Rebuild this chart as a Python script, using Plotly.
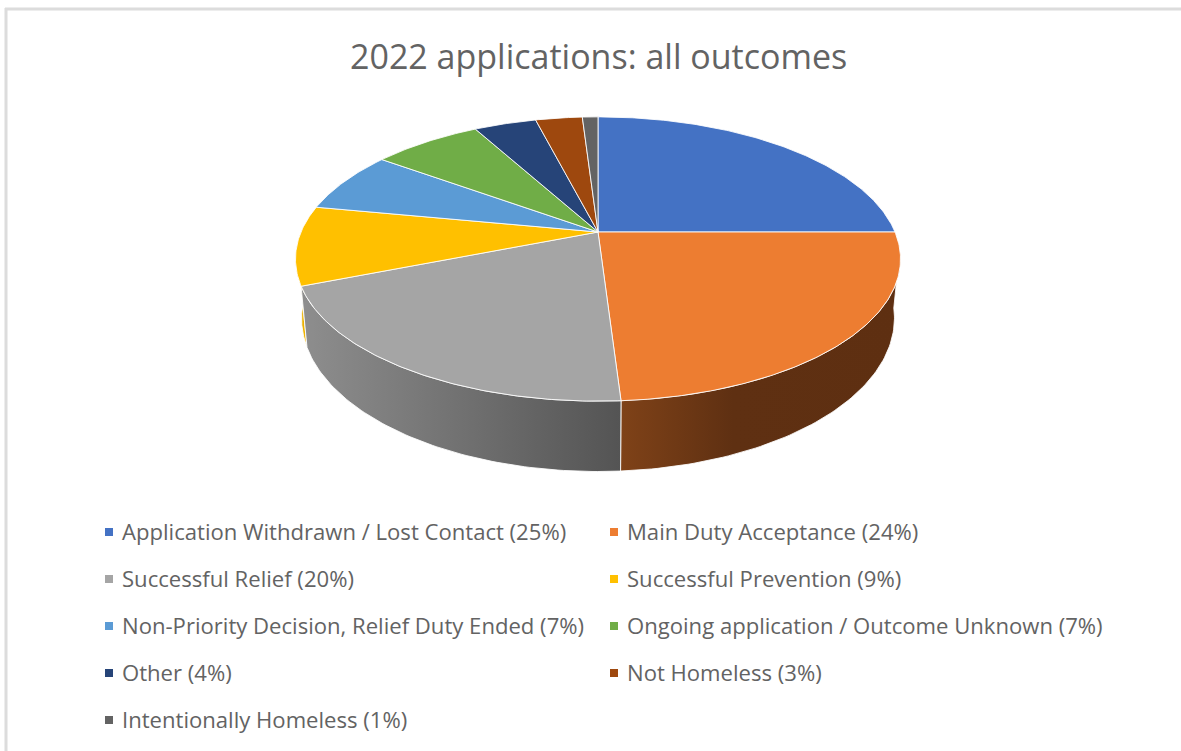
import numpy as np
import plotly.graph_objects as go

title = "2022 applications: all outcomes"
categories = [
    "Application Withdrawn / Lost Contact",
    "Main Duty Acceptance",
    "Successful Relief",
    "Successful Prevention",
    "Non-Priority Decision, Relief Duty Ended",
    "Ongoing application / Outcome Unknown",
    "Other",
    "Not Homeless",
    "Intentionally Homeless",
]
shares = [25, 24, 20, 9, 7, 7, 4, 3, 1]
colors = ["#4472C4", "#ED7D31", "#A5A5A5", "#FFC000", "#5B9BD5",
          "#70AD47", "#264478", "#9E480E", "#636363"]

# Perspective pie geometry, in page pixels
CX, CY = 598.0, 232.0
RX, RY = 297.0, 137.0
PERSPECTIVE = 0.19
DEPTH = 57.0
BASE_SCALE = 0.98
EDGE = "rgba(255,255,255,0.85)"
INK = "#636363"


def project(turn, drop=False):
    """Map clockwise turns from 12 o'clock on the pie's rim to page pixels."""
    theta = 2 * np.pi * np.asarray(turn, dtype=float)
    w = 1 + PERSPECTIVE * np.cos(theta)
    x = RX * np.sin(theta) / w
    y = CY - RY * np.cos(theta) / w
    if drop:
        return CX + BASE_SCALE * x, y + DEPTH / w
    return CX + x, y


edges = np.cumsum([0] + shares) / sum(shares)
fig = go.Figure()

# Side walls, painted back to front; only the near half of the rim shows
walls = [
    (3, 0.76, [[0, "#D9A300"], [1, "#FFC000"]]),
    (1, None, [[0, "#7F4218"], [0.4, "#5F3012"], [1, "#5E2F11"]]),
    (2, None, [[0, "#8E8E8E"], [1, "#545454"]]),
]
for idx, end_limit, ramp in walls:
    start, end = edges[idx], edges[idx + 1]
    if idx == 1:
        start = max(start, 0.27)
    if end_limit is not None:
        end = min(end, end_limit)
    arc = np.linspace(start, end, 80)
    tx, ty = project(arc)
    bx, by = project(arc, drop=True)
    fig.add_trace(go.Scatter(
        x=np.r_[tx, bx[::-1], tx[0]], y=np.r_[ty, by[::-1], ty[0]],
        mode="lines", fill="toself", name=categories[idx] + " (side)",
        line=dict(color=EDGE, width=1),
        fillgradient=dict(type="horizontal", colorscale=ramp),
        hoverinfo="skip", showlegend=False,
    ))

# Top faces
for i, cat in enumerate(categories):
    arc = np.linspace(edges[i], edges[i + 1], max(12, shares[i] * 6))
    ax, ay = project(arc)
    fig.add_trace(go.Scatter(
        x=np.r_[CX, ax, CX], y=np.r_[CY, ay, CY],
        mode="lines", fill="toself", fillcolor=colors[i],
        line=dict(color=EDGE, width=1),
        name=cat, text=f"{cat}: {shares[i]}%", hoverinfo="text", showlegend=False,
    ))

# Two-column key below the pie
KEY_X = [109, 614]
KEY_TOP = 532
KEY_STEP = 47
FONT = "Open Sans"
key_x, key_y = [], []
for i, cat in enumerate(categories):
    col, row = i % 2, i // 2
    key_x.append(KEY_X[col])
    key_y.append(KEY_TOP + row * KEY_STEP)
    fig.add_annotation(
        x=KEY_X[col] + 12, y=KEY_TOP + row * KEY_STEP - 1, xref="x", yref="y",
        text=f"{cat} ({shares[i]}%)", showarrow=False,
        xanchor="left", yanchor="middle", borderpad=0,
        font=dict(family=FONT, size=22.1, color=INK),
    )
fig.add_trace(go.Scatter(
    x=key_x, y=key_y, mode="markers", hoverinfo="skip", showlegend=False,
    marker=dict(symbol="square", size=8, color=colors, line=dict(width=0)),
))

fig.add_annotation(
    x=598, y=56, xref="x", yref="y", text=title, showarrow=False,
    xanchor="center", yanchor="middle",
    font=dict(family=FONT, size=34, color=INK),
)

# Thin frame along the top and left edges
fig.add_shape(type="line", x0=5, x1=1181, y0=9, y1=9, xref="x", yref="y",
              line=dict(color="#DCDCDC", width=3), layer="below")
fig.add_shape(type="line", x0=6, x1=6, y0=8, y1=751, xref="x", yref="y",
              line=dict(color="#DCDCDC", width=3), layer="below")

fig.update_layout(
    width=1181, height=751, autosize=False,
    margin=dict(l=0, r=0, t=0, b=0),
    paper_bgcolor="white", plot_bgcolor="white",
    xaxis=dict(range=[0, 1181], visible=False, fixedrange=True),
    yaxis=dict(range=[751, 0], visible=False, fixedrange=True),
)
fig.write_html("out.html", config={"displayModeBar": False})
